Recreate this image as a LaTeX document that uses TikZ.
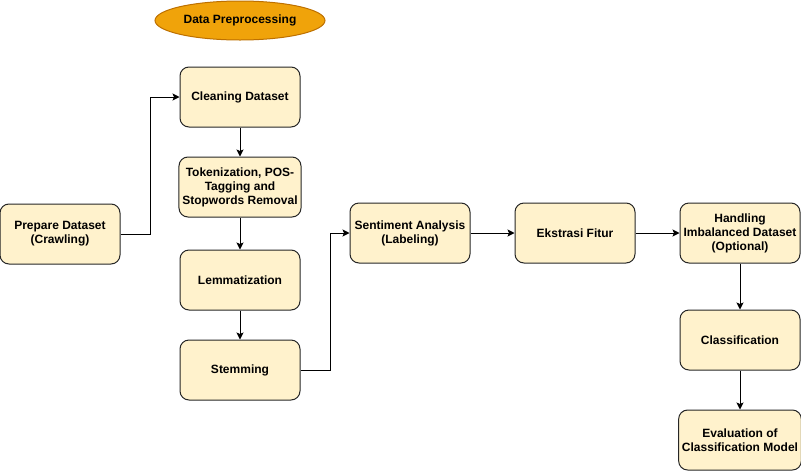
\documentclass[tikz,border=0pt]{standalone}
\usepackage{fontspec}
\setmainfont{Liberation Sans}
\usetikzlibrary{arrows.meta}
\usetikzlibrary{positioning}
\usetikzlibrary{shapes.geometric}
\definecolor{stepfill}{HTML}{FFF2CC}
\definecolor{titlefill}{HTML}{F0A30A}
\definecolor{titledraw}{HTML}{BD7000}
\tikzset{process/.style={rectangle,
    rounded corners=9pt,
    draw=black!85,
    fill=stepfill,
    minimum width=120pt,
    minimum height=60pt,
    align=center,
    font=\fontsize{12}{14}\selectfont\bfseries}}

\begin{document}
\begin{tikzpicture}[->,>={Stealth[length=7pt,width=7pt,inset=1.5pt]},
      x=1pt, y=-1pt,
      node distance=90pt,
      on grid,
      line width=1pt]

    \useasboundingbox (0,0) rectangle (801,472);

    \node[ellipse, draw=titledraw, fill=titlefill,
      minimum width=170pt, minimum height=39pt,
      font=\fontsize{12}{14}\selectfont\bfseries]
      (Title) at (240,20.5) {Data Preprocessing};
    \node[process]
      (Cleaning) at (240,97) {Cleaning Dataset};
    \node[process]
      (Tokenization) [below=of Cleaning] {Tokenization, POS-\\Tagging and\\Stopwords Removal};
    \node[process]
      (Lemmatization) [below=93pt of Tokenization] {Lemmatization};
    \node[process]
      (Stemming) [below=of Lemmatization] {Stemming};
    \node[process]
      (Prepare) at (60,234) {Prepare Dataset\\(Crawling)};
    \node[process]
      (Sentiment) at (410,233) {Sentiment Analysis\\(Labeling)};
    \node[process]
      (Ekstrasi) [right=165pt of Sentiment] {Ekstrasi Fitur};
    \node[process]
      (Handling) [right=165pt of Ekstrasi] {Handling\\Imbalanced Dataset\\(Optional)};
    \node[process]
      (Classification) [below=107pt of Handling] {Classification};
    \node[process]
      (Evaluation) [below=100pt of Classification] {Evaluation of\\Classification Model};

    \draw (Prepare.east) -- ++(30pt,0) |- (Cleaning.west);
    \draw (Stemming.east) -- ++(30pt,0) |- (Sentiment.west);
    \path[->]
      (Cleaning) edge (Tokenization)
      (Tokenization) edge (Lemmatization)
      (Lemmatization) edge (Stemming)
      (Sentiment) edge (Ekstrasi)
      (Ekstrasi) edge (Handling)
      (Handling) edge (Classification)
      (Classification) edge (Evaluation);

  \end{tikzpicture}
\end{document}
